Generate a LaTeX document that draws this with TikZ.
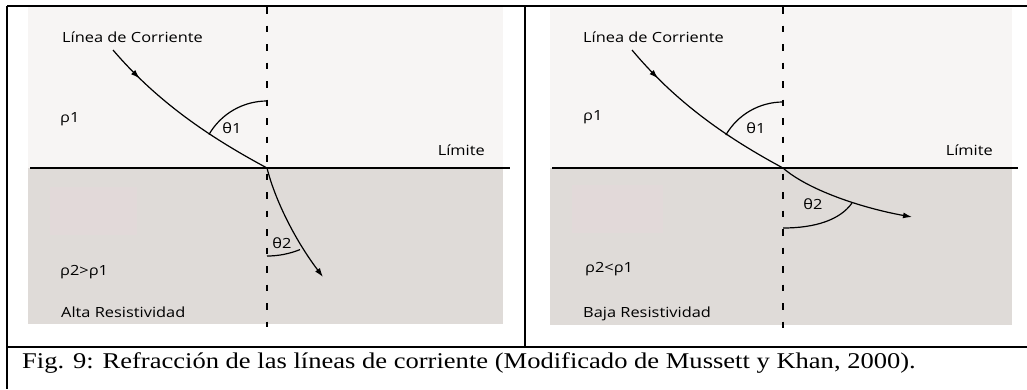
\documentclass[tikz,border=0pt]{standalone}
\usepackage{fontspec}
\setmainfont{Liberation Serif}
\newfontfamily\panelfont[FakeStretch=1.17]{Open Sans}
\newfontfamily\piefont[FakeStretch=1.18]{Liberation Serif}
\usetikzlibrary{arrows.meta,decorations.markings}

\definecolor{sueloalto}{HTML}{F7F5F4}
\definecolor{suelobajo}{HTML}{DFDBD8}
\definecolor{mancha}{HTML}{E2D9D9}

\tikzset{
	etiqueta/.style={inner sep=0pt, anchor=base west, font=\panelfont\fontsize{14}{16}\selectfont},
	limite/.style={line width=2.8pt},
	normal/.style={line width=2.8pt, dash pattern=on 6.5pt off 12pt},
	angulo/.style={line width=1.2pt},
	corriente/.style={line width=1.2pt, postaction={decorate},
		decoration={markings, mark=at position 0.2 with {\arrow{Latex[length=9pt,width=6pt]}}}},
	refractada/.style={line width=1.2pt, -{Latex[length=9pt,width=6pt]}},
	borde/.style={line width=2pt}
}

\begin{document}
\begin{tikzpicture}[x=1pt, y=1pt]
		\useasboundingbox (0,0) rectangle (1027,-389);
		\fill[white] (0,0) rectangle (1027,-389);

		\fill[color=sueloalto] (28,-7) rectangle (503,-168);
		\fill[color=suelobajo] (28,-168) rectangle (503,-324);
		\fill[color=mancha] (50,-187) rectangle (137,-235);
		\fill[color=sueloalto] (550,-8) rectangle (1012,-168);
		\fill[color=suelobajo] (550,-168) rectangle (1012,-325);
		\fill[color=mancha] (572,-185) rectangle (663,-233);

		\coordinate (a1) at (113,-50);
		\coordinate (o1) at (267,-168);
		\coordinate (b1) at (323,-277);
		\coordinate (a2) at (632,-50);
		\coordinate (o2) at (783,-168);
		\coordinate (b2) at (912,-217);

		\draw[color=black, normal] (267,-7) -- (267,-327);
		\draw[color=black, normal] (783,-7) -- (783,-328);
		\draw[color=black, limite] (30,-168) -- (510,-168);
		\draw[color=black, limite] (552,-168) -- (1018,-168);

		\draw[color=black, corriente] (a1) .. controls (160,-105) and (215,-140) .. (o1);
		\draw[color=black, refractada] (o1) .. controls (275,-200) and (295,-240) .. (b1);
		\draw[color=black, corriente] (a2) .. controls (678,-105) and (731,-140) .. (o2);
		\draw[color=black, refractada] (o2) .. controls (808,-190) and (862,-208) .. (b2);

		\draw[color=black, angulo] (267,-101) arc[start angle=90, end angle=150, radius=67pt];
		\draw[color=black, angulo] (267,-256) arc[start angle=270, end angle=292, radius=88pt];
		\draw[color=black, angulo] (783,-102) arc[start angle=90, end angle=150, radius=66pt];
		\draw[color=black, angulo] (783,-228) .. controls (815,-228) and (840,-220) .. (852,-203);

		\node[etiqueta] (linea1) at (62,-42) {Línea de Corriente};
		\node[etiqueta] (rho1) at (60,-122) {ρ1};
		\node[etiqueta, anchor=base] (theta1) at (232,-133) {θ1};
		\node[etiqueta, anchor=base east] (limite1) at (485,-155) {Límite};
		\node[etiqueta, anchor=base] (theta2) at (282,-248) {θ2};
		\node[etiqueta] (rho21) at (60,-275) {ρ2>ρ1};
		\node[etiqueta] (alta) at (61,-317) {Alta Resistividad};

		\node[etiqueta] (linea2) at (583,-42) {Línea de Corriente};
		\node[etiqueta] (rho2) at (583,-120) {ρ1};
		\node[etiqueta, anchor=base] (theta3) at (756,-133) {θ1};
		\node[etiqueta, anchor=base east] (limite2) at (993,-155) {Límite};
		\node[etiqueta, anchor=base] (theta4) at (813,-209) {θ2};
		\node[etiqueta] (rho22) at (585,-272) {ρ2<ρ1};
		\node[etiqueta] (baja) at (583,-317) {Baja Resistividad};

		\node[inner sep=0pt, anchor=base west, font=\piefont\fontsize{22.5}{26}\selectfont] (pie) at (22,-368)
			{Fig. 9: Refracción de las líneas de corriente (Modificado de Mussett y Khan, 2000).};

		\draw[color=black, borde] (7,-6) -- (1027,-6);
		\draw[color=black, borde] (7,-6) -- (7,-389);
		\draw[color=black, borde] (525,-6) -- (525,-347);
		\draw[color=black, borde] (7,-347) -- (1027,-347);
	\end{tikzpicture}
\end{document}
